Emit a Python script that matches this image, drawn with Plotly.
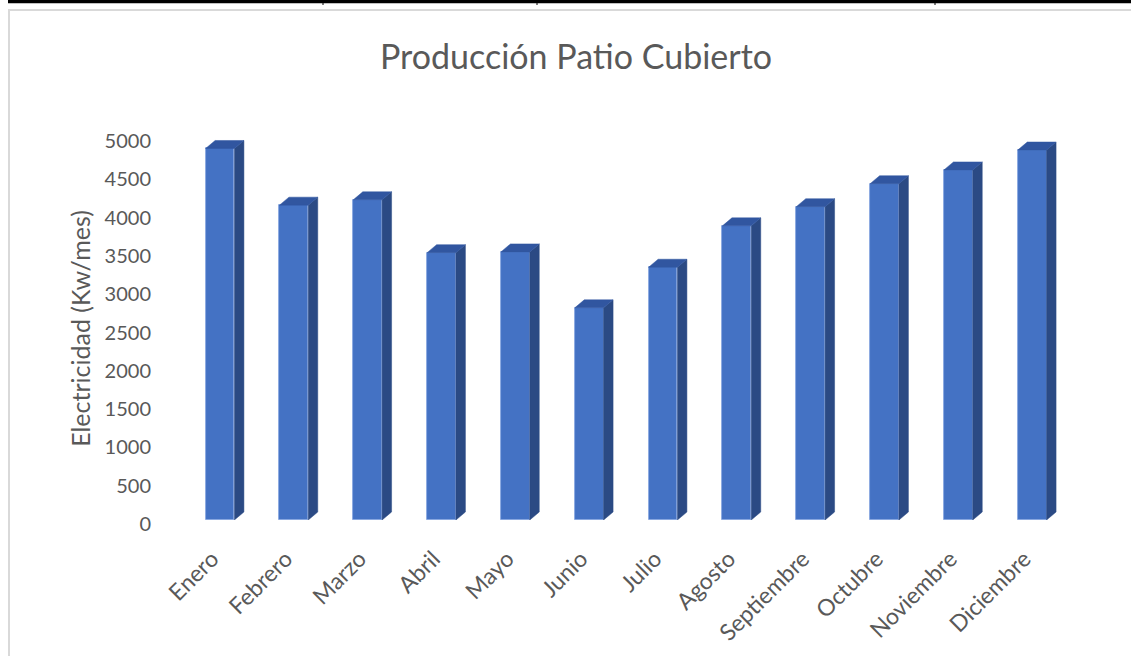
import plotly.graph_objects as go

months = ["Enero", "Febrero", "Marzo", "Abril", "Mayo", "Junio", "Julio",
          "Agosto", "Septiembre", "Octubre", "Noviembre", "Diciembre"]
values = [4850, 4110, 4180, 3490, 3500, 2770, 3300, 3840, 4090, 4390, 4570, 4830]
y_ticks = [0, 500, 1000, 1500, 2000, 2500, 3000, 3500, 4000, 4500, 5000]

W, H = 1131, 656
# plot area in pixels
PL, PR, PT, PB = 158, 1075, 137, 520
XMIN, XMAX = -0.84, 11.58
YMIN, YMAX = 0, 5000
BAR_W = 0.39
DEPTH_PX_X, DEPTH_PX_Y = 9.5, 8

px_per_x = (PR - PL) / (XMAX - XMIN)
px_per_y = (PB - PT) / (YMAX - YMIN)
dx = DEPTH_PX_X / px_per_x
dy = DEPTH_PX_Y / px_per_y

FRONT = "#4472C4"
SIDE = "#2B4A84"
TOP = "#3156A0"
TEXT = "#595959"
FONT = "Lato, Open Sans, sans-serif"

xs = list(range(len(months)))

side_x, side_y, top_x, top_y = [], [], [], []
for x, v in zip(xs, values):
    r = x + BAR_W / 2
    l = x - BAR_W / 2
    side_x += [r, r + dx, r + dx, r, r, None]
    side_y += [0, dy, v + dy, v, 0, None]
    top_x += [l, l + dx, r + dx, r, l, None]
    top_y += [v, v + dy, v + dy, v, v, None]

fig = go.Figure()
fig.add_trace(go.Scatter(x=side_x, y=side_y, fill="toself", fillcolor=SIDE,
                         mode="lines", line=dict(width=0.5, color=SIDE),
                         hoverinfo="skip", showlegend=False))
fig.add_trace(go.Scatter(x=top_x, y=top_y, fill="toself", fillcolor=TOP,
                         mode="lines", line=dict(width=0.5, color=TOP),
                         hoverinfo="skip", showlegend=False))
fig.add_trace(go.Bar(x=xs, y=values, width=BAR_W,
                     marker=dict(color=FRONT, line=dict(color="#7FA0DE", width=0.8)),
                     showlegend=False, name="Producción"))

# page decorations
shapes = [
    dict(type="rect", xref="paper", yref="paper", x0=8 / W, x1=1.0,
         y0=1 - 3.3 / H, y1=1.0, fillcolor="black", line=dict(width=0), layer="above"),
    dict(type="rect", xref="paper", yref="paper", x0=9 / W, x1=1.05,
         y0=-0.05, y1=1 - 10 / H, fillcolor="rgba(0,0,0,0)",
         line=dict(color="#D9D9D9", width=2), layer="below"),
]
for vx in [323, 537, 935]:
    shapes.append(dict(type="line", xref="paper", yref="paper", x0=vx / W, x1=vx / W,
                       y0=1 - 3 / H, y1=1 - 5 / H, line=dict(color="black", width=1)))

fig.update_layout(
    width=W, height=H,
    margin=dict(l=0, r=0, t=0, b=0),
    paper_bgcolor="white", plot_bgcolor="white",
    bargap=0,
    shapes=shapes,
    title=dict(text="Producción Patio Cubierto", x=576 / W, xanchor="center",
               y=1 - 57 / H, yanchor="middle",
               font=dict(family=FONT, size=34, color=TEXT)),
    xaxis=dict(domain=[PL / W, PR / W], range=[XMIN, XMAX], tickmode="array",
               tickvals=xs, ticktext=months, tickangle=-45, showgrid=False,
               zeroline=False, showline=False, ticks="", automargin=False,
               ticklabelstandoff=20, ticklabelshift=-8,
               tickfont=dict(family=FONT, size=23, color=TEXT)),
    yaxis=dict(domain=[1 - PB / H, 1 - PT / H], range=[YMIN, YMAX], tickmode="array",
               tickvals=y_ticks, ticktext=[str(t) for t in y_ticks], showgrid=False,
               zeroline=False, showline=False, ticks="", automargin=False,
               ticklabelstandoff=6, ticklabelshift=4,
               title=dict(text="Electricidad (Kw/mes)", standoff=6,
                          font=dict(family=FONT, size=25, color=TEXT)),
               tickfont=dict(family=FONT, size=20, color=TEXT)),
)

fig.write_html("out.html", post_script="document.body.style.margin='0';",
               config={"displayModeBar": False})
